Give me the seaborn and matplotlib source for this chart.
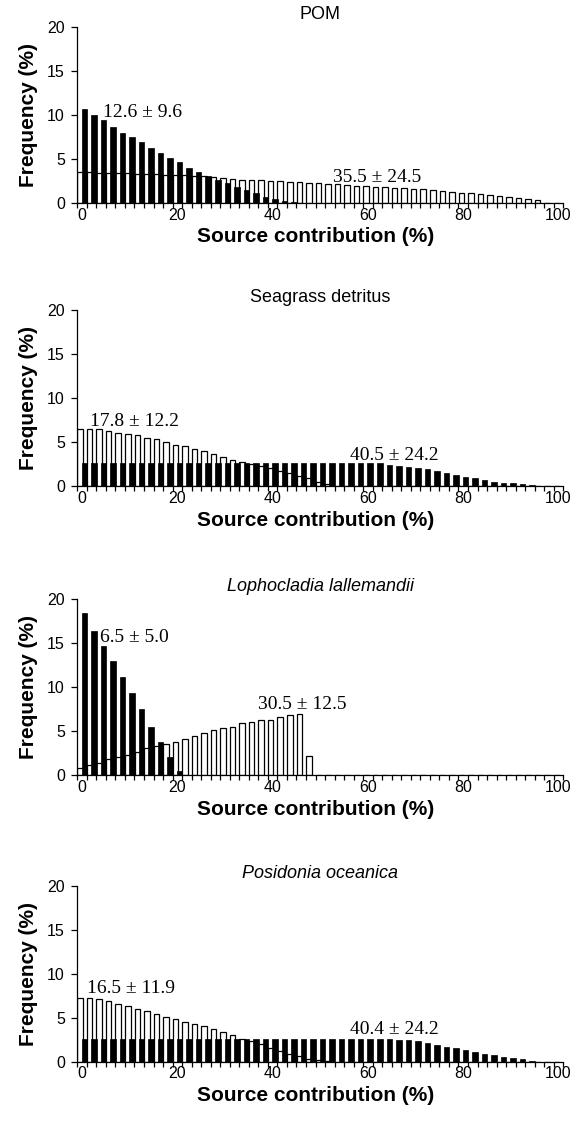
import numpy as np
import pandas as pd
import matplotlib
matplotlib.use('Agg')
import matplotlib.pyplot as plt
import seaborn as sns

sns.set_style('ticks')
plt.rcParams['font.family'] = ['Liberation Sans', 'DejaVu Sans']
plt.rcParams['text.color'] = 'black'
plt.rcParams['xtick.color'] = 'black'
plt.rcParams['ytick.color'] = 'black'
plt.rcParams['axes.labelcolor'] = 'black'

# source contribution classes (%) - one class every 2 %
bins = list(range(0, 102, 2))
tick_labels = ['0', '20', '40', '60', '80', '100']

titles = ['POM', 'Seagrass detritus', 'Lophocladia lallemandii', 'Posidonia oceanica']
italic = [False, False, True, True]

# frequency (%) per class, black = first run, white = second run
pom_black = [10.65, 9.92, 9.35, 8.55, 7.9, 7.45, 6.84, 6.2, 5.7, 5.1, 4.6, 3.9, 3.5,
             3.05, 2.62, 2.2, 1.8, 1.45, 1.06, 0.7, 0.4, 0.2, 0.08]
pom_white = [3.46, 3.44, 3.41, 3.38, 3.35, 3.32, 3.29, 3.26, 3.23, 3.2, 3.18, 3.15, 3.08,
             2.98, 2.88, 2.76, 2.68, 2.63, 2.58, 2.53, 2.48, 2.43, 2.38, 2.33, 2.27, 2.2,
             2.15, 2.1, 2.02, 1.95, 1.86, 1.8, 1.74, 1.68, 1.62, 1.56, 1.5, 1.42, 1.33,
             1.24, 1.15, 1.06, 0.98, 0.9, 0.8, 0.68, 0.55, 0.42, 0.28]

sea_black = [2.6, 2.6, 2.6, 2.6, 2.6, 2.6, 2.6, 2.6, 2.6, 2.6, 2.6, 2.6, 2.6, 2.6, 2.6, 2.6,
             2.6, 2.6, 2.6, 2.6, 2.6, 2.6, 2.6, 2.6, 2.6, 2.6, 2.6, 2.6, 2.6, 2.6, 2.6, 2.6,
             2.38, 2.3, 2.2, 2.08, 1.9, 1.74, 1.5, 1.25, 1.06, 0.87, 0.68, 0.5, 0.38, 0.3,
             0.2, 0.1]
sea_white = [6.5, 6.5, 6.5, 6.3, 6.05, 5.92, 5.75, 5.45, 5.32, 5.06, 4.7, 4.57, 4.25, 3.96,
             3.66, 3.28, 2.98, 2.72, 2.5, 2.3, 2.05, 1.75, 1.45, 1.15, 0.87, 0.5, 0.2, 0.05]

lop_black = [18.4, 16.4, 14.7, 13.0, 11.1, 9.3, 7.5, 5.5, 3.7, 2.0, 0.4]
lop_white = [0.76, 1.14, 1.4, 1.79, 2.09, 2.28, 2.66, 3.04, 3.35, 3.54, 3.8, 4.07, 4.45,
             4.75, 5.06, 5.4, 5.48, 5.9, 6.0, 6.2, 6.27, 6.58, 6.84, 6.92, 2.2]

pos_black = [2.6, 2.6, 2.6, 2.6, 2.6, 2.6, 2.6, 2.6, 2.6, 2.6, 2.6, 2.6, 2.6, 2.6, 2.6, 2.6,
             2.6, 2.6, 2.6, 2.6, 2.6, 2.6, 2.6, 2.6, 2.6, 2.6, 2.6, 2.6, 2.6, 2.6, 2.6, 2.6,
             2.55, 2.5, 2.42, 2.3, 2.15, 1.92, 1.71, 1.52, 1.3, 1.08, 0.88, 0.7, 0.52, 0.38,
             0.25, 0.12]
pos_white = [7.2, 7.2, 7.15, 6.85, 6.58, 6.27, 6.0, 5.7, 5.4, 5.06, 4.83, 4.56, 4.28, 4.0,
             3.7, 3.38, 2.98, 2.62, 2.3, 2.0, 1.6, 1.25, 0.9, 0.6, 0.35, 0.15, 0.05]

notes = [['12.6 \u00b1 9.6', '35.5 \u00b1 24.5'],
         ['17.8 \u00b1 12.2', '40.5 \u00b1 24.2'],
         ['6.5 \u00b1 5.0', '30.5 \u00b1 12.5'],
         ['16.5 \u00b1 11.9', '40.4 \u00b1 24.2']]
# where the notes sit (class units, frequency)
note_xy = [[(2.7, 10.3), (26.8, 2.85)],
           [(1.3, 7.3), (28.6, 3.5)],
           [(2.4, 15.65), (19.0, 7.98)],
           [(1.0, 8.3), (28.6, 3.6)]]

whites = [pom_white, sea_white, lop_white, pos_white]
blacks = [pom_black, sea_black, lop_black, pos_black]


def fill(vals):
    return list(vals) + [0.0] * (len(bins) - len(vals))


fig = plt.figure(figsize=(5.85, 11.24), dpi=100)
bottoms = [0.8197, 0.5676, 0.3105, 0.0555]

for i in range(4):
    ax = fig.add_axes([0.1321, bottoms[i], 0.8308, 0.1565])
    idx = np.arange(len(bins))
    df_w = pd.DataFrame({'pos': idx + 0.3, 'freq': fill(whites[i])})
    df_b = pd.DataFrame({'pos': idx + 0.74, 'freq': fill(blacks[i])})
    sns.barplot(data=df_w, x='pos', y='freq', native_scale=True, width=0.58,
                color='white', edgecolor='black', linewidth=0.9, saturation=1,
                errorbar=None, ax=ax)
    sns.barplot(data=df_b, x='pos', y='freq', native_scale=True, width=0.58,
                color='black', edgecolor='black', linewidth=0.5, saturation=1,
                errorbar=None, ax=ax)

    ax.set_xlim(0, len(bins))
    ax.set_ylim(0, 20)
    ax.set_xticks(np.arange(0, len(bins), 10) + 0.5)
    ax.set_xticklabels(tick_labels)
    ax.set_xticks(np.arange(0, len(bins) + 1), minor=True)
    ax.set_yticks([0, 5, 10, 15, 20])
    ax.tick_params(axis='x', which='major', length=0, pad=3.5, labelsize=11.5,
                   labelcolor='black')
    ax.tick_params(axis='x', which='minor', length=3.4, width=0.9, direction='out',
                   color='black')
    ax.tick_params(axis='y', length=4, width=0.9, pad=5, labelsize=11.5,
                   color='black', labelcolor='black')
    ax.set_xlabel('')
    ax.set_ylabel('')
    sns.despine(ax=ax)
    for s in ['left', 'bottom']:
        ax.spines[s].set_linewidth(0.9)
        ax.spines[s].set_color('black')

    ax.text(0.5, 1.07, titles[i], transform=ax.transAxes, ha='center', va='center',
            fontsize=13, color='black', style='italic' if italic[i] else 'normal')
    ax.text(0.49, -0.195, 'Source contribution (%)', transform=ax.transAxes,
            ha='center', va='center', fontsize=15, fontweight='bold', color='black')
    ax.text(-0.1, 0.5, 'Frequency (%)', transform=ax.transAxes, rotation=90,
            ha='center', va='center', fontsize=15, fontweight='bold', color='black')

    for txt, (x, y) in zip(notes[i], note_xy[i]):
        ax.text(x, y, txt, ha='left', va='center', fontsize=14, color='black',
                family=['Liberation Serif', 'DejaVu Serif'])

fig.savefig('out.png', dpi=100)
